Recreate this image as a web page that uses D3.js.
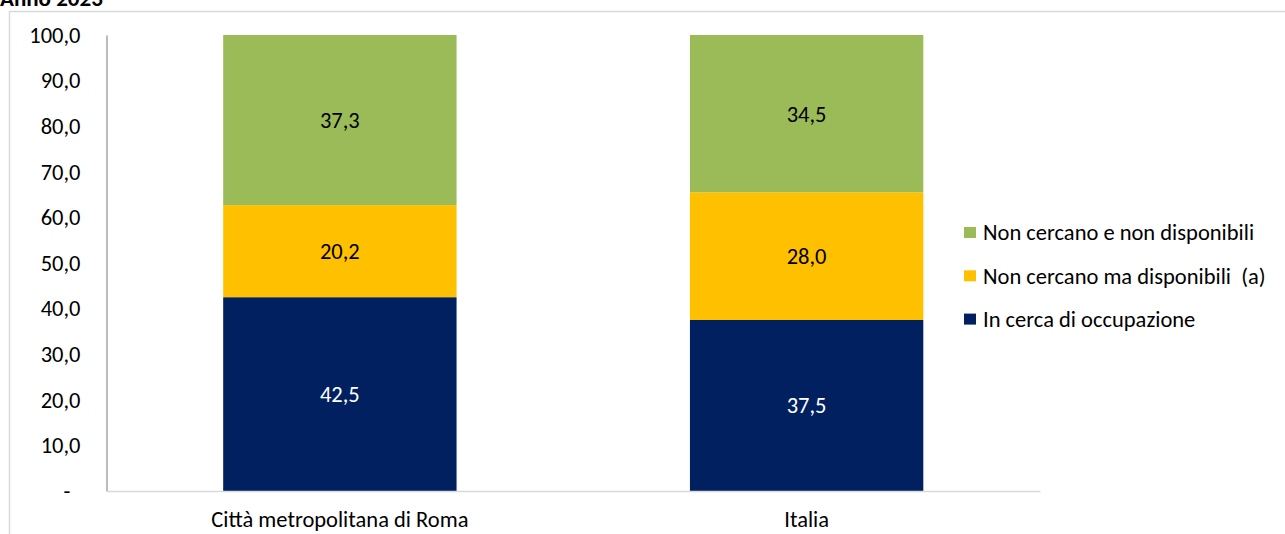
<!DOCTYPE html>
<html><head><meta charset="utf-8">
<script src="https://cdn.jsdelivr.net/npm/d3@7"></script>
<style>body{margin:0;background:#fff}svg{display:block}text{font-family:Carlito,Lato,"Open Sans",sans-serif;white-space:pre}</style>
</head><body>
<svg id="c" width="1285" height="534"></svg>
<script>
const categories = ["Città metropolitana di Roma", "Italia"];
const seriesNames = ["In cerca di occupazione", "Non cercano ma disponibili  (a)", "Non cercano e non disponibili"];
const inCerca = [42.5, 37.5];
const nonCercanoDisp = [20.2, 28.0];
const nonCercanoNonDisp = [37.3, 34.5];
const yTicks = [0, 10, 20, 30, 40, 50, 60, 70, 80, 90, 100];
const colors = ["#002060", "#FFC000", "#9BBB59"];
const labelColors = ["#ffffff", "#000000", "#000000"];

(function () {
const svg = d3.select("#c");
const pLeft = 106.5, pRight = 1040, pTop = 35, pBottom = 491;
const FS = 22.5;
const FF = "Carlito,Lato,'Open Sans',sans-serif";

// title (cut off at the top in the reference)
svg.append("text").attr("x", 0).attr("y", 6).attr("font-size", 23).attr("font-weight", "bold")
  .attr("fill", "#000").text("Anno 2023");
// chart border
svg.append("rect").attr("x", 9.5).attr("y", 11.5).attr("width", 1300).attr("height", 600)
  .attr("fill", "none").attr("stroke", "#d9d9d9").attr("stroke-width", 1.5);

const x = d3.scaleBand().domain(categories).range([pLeft, pRight]).paddingInner(0.5).paddingOuter(0.25);
const y = d3.scaleLinear().domain([0, 100]).range([pBottom, pTop]);

const rows = categories.map((c, i) => ({cat: c, s0: inCerca[i], s1: nonCercanoDisp[i], s2: nonCercanoNonDisp[i]}));
const stack = d3.stack().keys(["s0", "s1", "s2"])(rows);

stack.forEach((layer, k) => {
  const g = svg.append("g");
  g.selectAll("rect").data(layer).join("rect")
    .attr("x", d => x(d.data.cat)).attr("width", x.bandwidth())
    .attr("y", d => y(d[1])).attr("height", d => y(d[0]) - y(d[1]))
    .attr("fill", colors[k]);
  g.selectAll("text").data(layer).join("text")
    .attr("x", d => x(d.data.cat) + x.bandwidth() / 2)
    .attr("y", d => (y(d[0]) + y(d[1])) / 2)
    .attr("dy", "0.35em").attr("text-anchor", "middle").attr("font-size", FS)
    .attr("fill", labelColors[k])
    .text(d => d3.format(".1f")(d[1] - d[0]).replace(".", ","));
});

// axes
const yAxis = d3.axisLeft(y).tickValues(yTicks).tickSize(0).tickPadding(26)
  .tickFormat(d => d === 0 ? "-" : d3.format(".1f")(d).replace(".", ","));
const gy = svg.append("g").attr("transform", `translate(${pLeft},0)`).call(yAxis);
gy.select(".domain").attr("stroke", "#a6a6a6").attr("stroke-width", 1.5);
gy.selectAll("text").attr("font-size", FS).attr("fill", "#000").attr("font-family", FF);
gy.selectAll(".tick").filter(d => d === 0).select("text").attr("dx", -10);

const xAxis = d3.axisBottom(x).tickSize(0).tickPadding(20);
const gx = svg.append("g").attr("transform", `translate(0,${pBottom})`).call(xAxis);
gx.select(".domain").attr("stroke", "#d9d9d9").attr("stroke-width", 1.5);
gx.selectAll("text").attr("font-size", FS).attr("fill", "#000").attr("font-family", FF);

// legend
const legendOrder = [2, 1, 0];
const lg = svg.append("g");
legendOrder.forEach((k, i) => {
  const yy = 232.5 + i * 43.3;
  lg.append("rect").attr("x", 964).attr("y", yy - 5.5).attr("width", 12).attr("height", 11).attr("fill", colors[k]);
  lg.append("text").attr("x", 983).attr("y", yy).attr("dy", "0.35em").attr("font-size", FS).attr("fill", "#000")
    .text(seriesNames[k]);
});
})();
</script>
</body></html>
